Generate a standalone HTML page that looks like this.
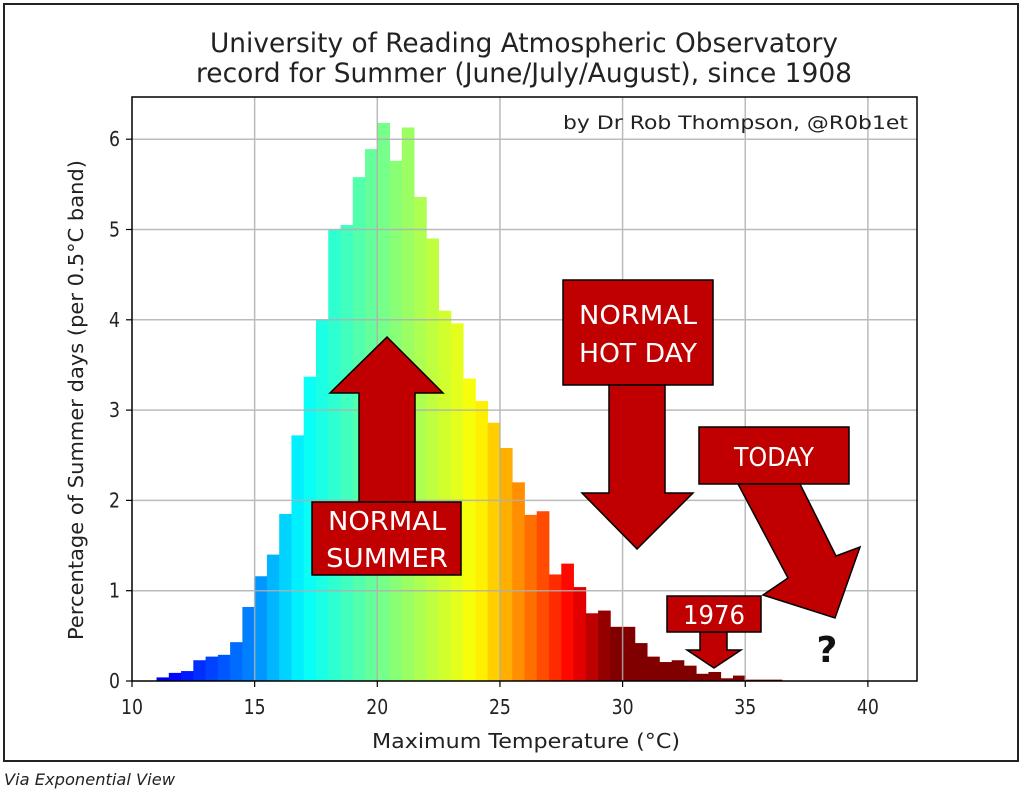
<!DOCTYPE html>
<html><head><meta charset="utf-8"><style>
html,body{margin:0;padding:0;background:#fff;width:1024px;height:802px;overflow:hidden}
svg{display:block}
text{font-family:"DejaVu Sans","Liberation Sans",sans-serif}
</style></head><body>
<svg id="s" width="1024" height="802" viewBox="0 0 1024 802" xmlns="http://www.w3.org/2000/svg">
<rect x="0" y="0" width="1024" height="802" fill="#fff"/>
<rect x="4" y="4" width="1014" height="757" fill="none" stroke="#222" stroke-width="2"/>
<text x="524" y="52" font-size="27" text-anchor="middle" fill="#222" textLength="628" lengthAdjust="spacingAndGlyphs">University of Reading Atmospheric Observatory</text>
<text x="524" y="82" font-size="27" text-anchor="middle" fill="#222" textLength="656" lengthAdjust="spacingAndGlyphs">record for Summer (June/July/August), since 1908</text>
<g id="bars"></g>
<g id="grid" stroke="#b0b0b0" stroke-width="1.5" opacity="0.85"></g>
<rect x="132" y="97" width="785" height="584" fill="none" stroke="#000" stroke-width="1.5"/>
<g id="ticks" font-size="20" fill="#222"></g>
<text x="908" y="129" font-size="19" text-anchor="end" fill="#222" textLength="345" lengthAdjust="spacingAndGlyphs">by Dr Rob Thompson, @R0b1et</text>
<text x="526" y="748" font-size="20" text-anchor="middle" fill="#222" textLength="308" lengthAdjust="spacingAndGlyphs">Maximum Temperature (°C)</text>
<text transform="translate(83,400) rotate(-90)" font-size="20" text-anchor="middle" fill="#222" textLength="480" lengthAdjust="spacingAndGlyphs">Percentage of Summer days (per 0.5°C band)</text>
<text x="4" y="785" font-size="16" font-style="italic" fill="#222" font-family="Liberation Sans,sans-serif" textLength="171" lengthAdjust="spacingAndGlyphs">Via Exponential View</text>

<g fill="#c00000" stroke="#000" stroke-width="1.5">
<polygon points="387,337 443,393 415,393 415,503 359,503 359,393 330,393"/>
<rect x="312" y="502" width="149" height="73"/>
<rect x="563" y="280" width="150" height="105"/>
<polygon points="609,385 665,385 665,493 693,493 637,549 582,493 609,493"/>
<rect x="699" y="427" width="150" height="57"/>
<polygon points="738,484 800,484 836,556 860,547 835,618 763,595 788,578"/>
<polygon points="700,632 727,632 727,650 741,650 714,668 687,650 700,650"/>
<rect x="667" y="596" width="94" height="36"/>
</g>
<g fill="#fff" font-family="Liberation Sans,sans-serif" font-size="26" text-anchor="middle">
<text x="387" y="530" textLength="118" lengthAdjust="spacingAndGlyphs">NORMAL</text>
<text x="387" y="567" textLength="122" lengthAdjust="spacingAndGlyphs">SUMMER</text>
<text x="638" y="324" textLength="118" lengthAdjust="spacingAndGlyphs">NORMAL</text>
<text x="638" y="362" textLength="118" lengthAdjust="spacingAndGlyphs">HOT DAY</text>
<text x="774" y="466" textLength="80" lengthAdjust="spacingAndGlyphs">TODAY</text>
<text x="714" y="624" textLength="62" lengthAdjust="spacingAndGlyphs">1976</text>
</g>
<text x="827" y="662" font-family="Liberation Sans,sans-serif" font-weight="bold" font-size="36" text-anchor="middle" fill="#111">?</text>
</svg>
<script>
var NS="http://www.w3.org/2000/svg";
function X(v){return 132+(v-10)*24.53}
function Y(v){return 681-v*90.3}
var h=[0.04,0.09,0.11,0.23,0.27,0.29,0.43,0.82,1.16,1.4,1.85,2.72,3.37,4.0,5.0,5.05,5.58,5.89,6.18,5.76,6.13,5.36,4.9,4.1,3.96,3.35,3.1,2.86,2.58,2.2,1.84,1.88,1.18,1.3,1.04,0.75,0.78,0.6,0.6,0.42,0.27,0.21,0.23,0.17,0.08,0.1,0.03,0.06,0.015,0.015,0.015];
var A=[[11,0.1],[15,0.26],[17,0.375],[20.5,0.5],[24,0.625],[26,0.75],[27.5,0.85],[28.5,0.92],[29.5,1.0]];
function tOf(v){if(v<=A[0][0])return A[0][1];for(var i=1;i<A.length;i++){if(v<=A[i][0]){var a=A[i-1],b=A[i];return a[1]+(b[1]-a[1])*(v-a[0])/(b[0]-a[0]);}}return 1;}
function cl(x){return Math.max(0,Math.min(1,x))}
function jet(t){var r=cl(1.5-Math.abs(4*t-3)),g=cl(1.5-Math.abs(4*t-2)),b=cl(1.5-Math.abs(4*t-1));return "rgb("+Math.round(r*255)+","+Math.round(g*255)+","+Math.round(b*255)+")";}
var bars=document.getElementById("bars");
for(var i=0;i<h.length;i++){var v=11+i*0.5;var r=document.createElementNS(NS,"rect");
var x0=X(v),x1=X(v+0.5);r.setAttribute("x",x0);r.setAttribute("width",x1-x0+0.4);r.setAttribute("y",Y(h[i]));r.setAttribute("height",h[i]*90.3);r.setAttribute("fill",jet(tOf(v+0.25)));bars.appendChild(r);}
var g=document.getElementById("grid"),tk=document.getElementById("ticks");
function line(p,x1,y1,x2,y2,c){var l=document.createElementNS(NS,"line");l.setAttribute("x1",x1);l.setAttribute("y1",y1);l.setAttribute("x2",x2);l.setAttribute("y2",y2);if(c){l.setAttribute("stroke",c);l.setAttribute("stroke-width",1.2);}p.appendChild(l);}
function txt(x,y,s,anc){var t=document.createElementNS(NS,"text");t.setAttribute("x",x);t.setAttribute("y",y);t.setAttribute("text-anchor",anc);t.setAttribute("textLength",s.length*11);t.setAttribute("lengthAdjust","spacingAndGlyphs");t.textContent=s;tk.appendChild(t);}
for(var v=10;v<=40;v+=5){var x=X(v);if(v>10)line(g,x,97,x,681);line(tk,x,681,x,687,"#000");txt(x,714,String(v),"middle");}
for(var k=0;k<=6;k++){var y=Y(k);if(k>0)line(g,132,y,917,y);line(tk,126,y,132,y,"#000");txt(120,y+7,String(k),"end");}
</script>
</body></html>
